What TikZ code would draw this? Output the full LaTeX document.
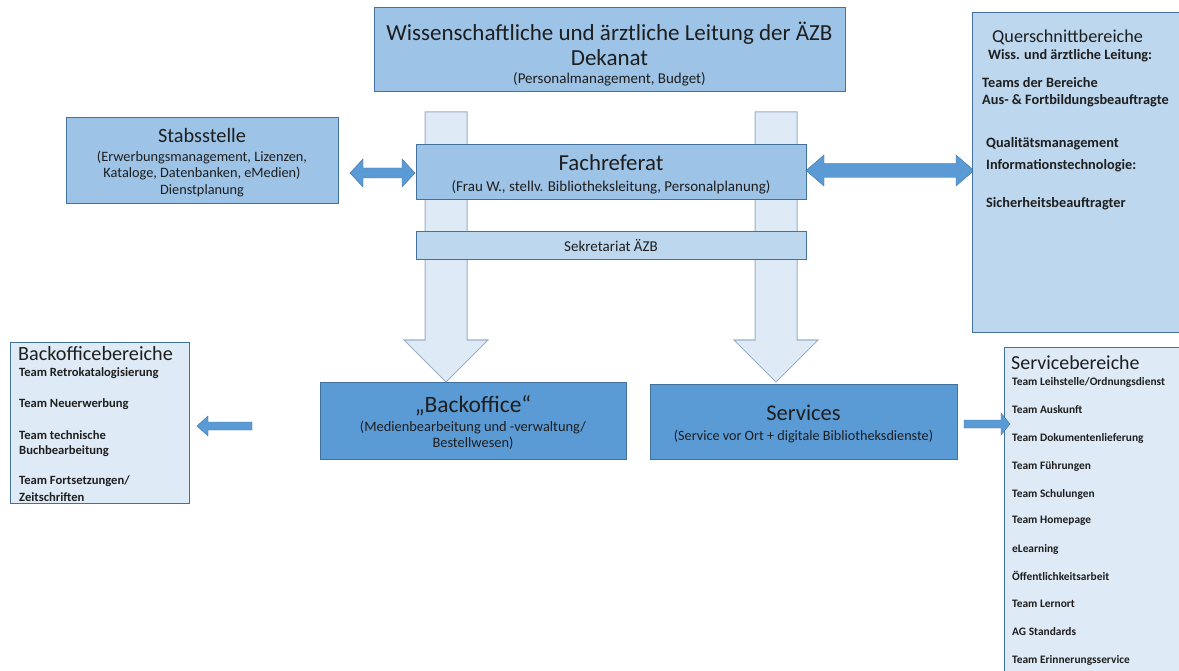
\documentclass[tikz,border=0pt]{standalone}
\usepackage{fontspec}
\setmainfont{Carlito}
\definecolor{midblue}{HTML}{9DC3E6}
\definecolor{lightblue}{HTML}{BDD7EE}
\definecolor{paleblue}{HTML}{DEEBF7}
\definecolor{darkblue}{HTML}{5B9BD5}
\definecolor{bordc}{HTML}{41719C}
\definecolor{arrbord}{HTML}{9AAEC4}
\definecolor{textc}{HTML}{1E1E1E}
\newcommand\fsz[2]{\fontsize{#1pt}{#2pt}\selectfont}
\begin{document}
\begin{tikzpicture}[x=1pt,y=-1pt,
  boxbase/.style={draw=bordc, line width=1pt, inner sep=0pt},
  boxmid/.style={boxbase, fill=midblue},
  boxlight/.style={boxbase, fill=lightblue},
  boxpale/.style={boxbase, fill=paleblue},
  boxdark/.style={boxbase, fill=darkblue},
  txt/.style={inner sep=0pt, text=textc},
  item/.style={txt, anchor=west, font=\bfseries\fsz{12.6}{14}},
  sitem/.style={txt, anchor=west, font=\bfseries\fsz{11.4}{13}},
  qitem/.style={txt, anchor=west, font=\bfseries\fsz{14.3}{16}},
  blockarrow/.style={fill=darkblue, draw=bordc, line width=0.4pt},
  bigarrow/.style={fill=paleblue, draw=arrbord, line width=1pt, line join=miter}]
\clip (0,0) rectangle (1179,671);
\useasboundingbox (0,0) rectangle (1179,671);
\fill[white] (0,0) rectangle (1179,671);

% big down arrows
\draw[bigarrow] (425,112) -- (467,112) -- (467,340) -- (488,340) -- (446,382) -- (404,340) -- (425,340) -- cycle;
\draw[bigarrow] (755,112) -- (797,112) -- (797,340) -- (818,340) -- (776,382) -- (734,340) -- (755,340) -- cycle;

% top box
\node[boxmid, minimum width=471pt, minimum height=84pt] (top) at (609.5,50) {};
\node[txt, font=\fsz{23}{27}] (topA) at (609.5,33) {Wissenschaftliche und ärztliche Leitung der ÄZB};
\node[txt, font=\fsz{23}{27}] (topB) at (609.5,58) {Dekanat};
\node[txt, font=\fsz{15}{18}] (topC) at (609.5,79) {(Personalmanagement, Budget)};

% Stabsstelle
\node[boxmid, minimum width=272pt, minimum height=86pt] (stab) at (202,161) {};
\node[txt, font=\fsz{20.3}{24}] (stabA) at (202,136) {Stabsstelle};
\node[txt, font=\fsz{14.3}{16.5}, align=center] (stabB) at (202,174) {(Erwerbungsmanagement, Lizenzen,\\Kataloge, Datenbanken, eMedien)\\Dienstplanung};

% Fachreferat
\node[boxmid, minimum width=390pt, minimum height=55pt] (fach) at (611,172.5) {};
\node[txt, font=\fsz{22.8}{26}] (fachA) at (611,163) {Fachreferat};
\node[txt, font=\fsz{15}{18}] (fachB) at (611,187) {(Frau W., stellv. Bibliotheksleitung, Personalplanung)};

% Sekretariat
\node[boxlight, minimum width=390pt, minimum height=28pt] (sek) at (611,246) {};
\node[txt, font=\fsz{15}{18}] (sekA) at (611,246) {Sekretariat ÄZB};

% double arrows
\draw[blockarrow] (350,173) -- (363,159) -- (363,168) -- (402,168) -- (402,159) -- (415,173)
  -- (402,187) -- (402,178) -- (363,178) -- (363,187) -- cycle;
\draw[blockarrow] (806,170.5) -- (824,155) -- (824,163.5) -- (956,163.5) -- (956,155) -- (974,170.5)
  -- (956,186) -- (956,177.5) -- (824,177.5) -- (824,186) -- cycle;

% Querschnittbereiche
\node[boxlight, anchor=north west, minimum width=230pt, minimum height=320pt] (quer) at (972,12) {};
\node[txt, anchor=west, font=\fsz{18.2}{21}] (qT) at (992,37) {Querschnittbereiche};
\node[qitem] (q1) at (988,56) {Wiss. und ärztliche Leitung:};
\node[qitem] (q2) at (982,83) {Teams der Bereiche};
\node[qitem] (q3) at (982,101) {Aus- \& Fortbildungsbeauftragte};
\node[qitem] (q4) at (986,144) {Qualitätsmanagement};
\node[qitem] (q5) at (986,166) {Informationstechnologie:};
\node[qitem] (q6) at (986,204) {Sicherheitsbeauftragter};

% Backoffice and Services
\node[boxdark, minimum width=306pt, minimum height=77pt] (bo) at (473,420.5) {};
\node[txt, font=\fsz{23.5}{27}] (boA) at (473,406) {„Backoffice“};
\node[txt, font=\fsz{14.4}{16}, align=center] (boB) at (473,435) {(Medienbearbeitung und -verwaltung/\\Bestellwesen)};

\node[boxdark, minimum width=307pt, minimum height=75pt] (srv) at (803.5,421.5) {};
\node[txt, font=\fsz{22.5}{26}] (srvA) at (803.5,413) {Services};
\node[txt, font=\fsz{14.2}{16}] (srvB) at (803.5,437) {(Service vor Ort + digitale Bibliotheksdienste)};

% Backofficebereiche
\node[boxpale, anchor=north west, minimum width=179pt, minimum height=161pt] (bob) at (10,342) {};
\node[txt, anchor=west, font=\fsz{20.2}{23}] (bobT) at (18,354) {Backofficebereiche};
\node[item] (b1) at (19,373) {Team Retrokatalogisierung};
\node[item] (b2) at (19,404) {Team Neuerwerbung};
\node[item] (b3) at (19,435) {Team technische};
\node[item] (b4) at (19,451) {Buchbearbeitung};
\node[item] (b5) at (19,481) {Team Fortsetzungen/};
\node[item] (b6) at (19,497) {Zeitschriften};

% Servicebereiche
\node[boxpale, anchor=north west, minimum width=200pt, minimum height=340pt] (sb) at (1004,347) {};
\node[txt, anchor=west, font=\fsz{19.9}{23}] (sbT) at (1011,363) {Servicebereiche};
\node[sitem] (s1) at (1012,382) {Team Leihstelle/Ordnungsdienst};
\node[sitem] (s2) at (1012,410) {Team Auskunft};
\node[sitem] (s3) at (1012,438) {Team Dokumentenlieferung};
\node[sitem] (s4) at (1012,466) {Team Führungen};
\node[sitem] (s5) at (1012,494) {Team Schulungen};
\node[sitem] (s6) at (1012,521) {Team Homepage};
\node[sitem] (s7) at (1012,549) {eLearning};
\node[sitem] (s8) at (1012,576) {Öffentlichkeitsarbeit};
\node[sitem] (s9) at (1012,604) {Team Lernort};
\node[sitem] (s10) at (1012,632) {AG Standards};
\node[sitem] (s11) at (1012,660) {Team Erinnerungsservice};

% single arrows
\draw[blockarrow] (197,426) -- (208,416) -- (208,422) -- (252,422) -- (252,430) -- (208,430) -- (208,436) -- cycle;
\draw[blockarrow] (1010,424) -- (1001,413) -- (1001,420) -- (964,420) -- (964,428) -- (1001,428) -- (1001,435) -- cycle;
\end{tikzpicture}
\end{document}
